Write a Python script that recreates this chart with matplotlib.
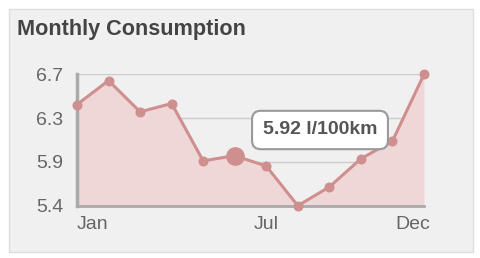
import matplotlib
matplotlib.use("Agg")
from matplotlib import pyplot as plt
from matplotlib.patches import FancyBboxPatch
from matplotlib.transforms import ScaledTranslation
import numpy as np

months = ["Jan", "Feb", "Mar", "Apr", "May", "Jun",
          "Jul", "Aug", "Sep", "Oct", "Nov", "Dec"]
consumption = [6.41, 6.64, 6.34, 6.42, 5.87, 5.92,
               5.82, 5.44, 5.62, 5.89, 6.06, 6.70]
tick_months = ["Jan", "Jul", "Dec"]
highlight = "Jun"
unit = "l/100km"

line_col = "#cf8f8f"
fill_col = "#efd7d7"
text_col = "#666666"

plt.rcParams["font.family"] = ["Liberation Sans", "DejaVu Sans"]

fig = plt.figure(figsize=(4.81, 2.58), dpi=100)
fig.patch.set_facecolor("white")

# panel box
panel = FancyBboxPatch((9 / 481, 6 / 258), 464 / 481, 243 / 258,
                       boxstyle="square,pad=0", transform=fig.transFigure,
                       facecolor="#f0f0f0", edgecolor="#dddddd", linewidth=1,
                       zorder=-5)
fig.patches.append(panel)
fig.text(17 / 481, 1 - 30 / 258, "Monthly Consumption", fontsize=15.6,
         fontweight="bold", color="#444444", va="center", ha="left")

ax = fig.add_axes([77 / 481, 52.3 / 258, 347 / 481, 131.4 / 258])
ax.set_facecolor("none")

x = np.arange(len(months))
lo, hi = min(consumption), max(consumption)
ax.fill_between(x, consumption, lo, color=fill_col, linewidth=0, zorder=1)
ax.plot(x, consumption, color=line_col, linewidth=2.2, marker="o",
        markersize=6.2, zorder=3, clip_on=False)
hi_i = months.index(highlight)
ax.plot(x[hi_i], consumption[hi_i], "o", color=line_col, markersize=12.5,
        zorder=4, clip_on=False)

ax.set_xlim(0, len(months) - 1)
ax.set_ylim(lo, hi)
yt = np.linspace(lo, hi, 4)
ax.set_yticks(yt)
ax.set_yticklabels([f"{v:.1f}" for v in yt])
ax.grid(axis="y", color="#cccccc", linewidth=1)
ax.set_axisbelow(True)

ax.set_xticks([months.index(m) for m in tick_months])
ax.set_xticklabels(tick_months)

for side in ["top", "right"]:
    ax.spines[side].set_visible(False)
ax.spines["left"].set_color("#aaaaaa")
ax.spines["left"].set_linewidth(2.5)
ax.spines["bottom"].set_color("#aaaaaa")
ax.spines["bottom"].set_linewidth(2)
ax.tick_params(length=0, labelsize=14, colors=text_col)
ax.tick_params(axis="y", pad=10)
ax.tick_params(axis="x", pad=7.5)

labels = ax.get_xticklabels()
labels[0].set_ha("left")
labels[-1].set_ha("right")
labels[-1].set_transform(labels[-1].get_transform()
                         + ScaledTranslation(6 / 100, 0, fig.dpi_scale_trans))

# tooltip
ax.annotate(f"{consumption[hi_i]:.2f} {unit}", xy=(320 / 481, 1 - 130 / 258),
            xycoords="figure fraction", ha="center", va="center",
            fontsize=14, fontweight="bold", color="#555555",
            bbox=dict(boxstyle="round,pad=0.55,rounding_size=0.45",
                      facecolor="white", edgecolor="#999999", linewidth=1.5),
            zorder=10)

fig.savefig("out.png", dpi=100)
